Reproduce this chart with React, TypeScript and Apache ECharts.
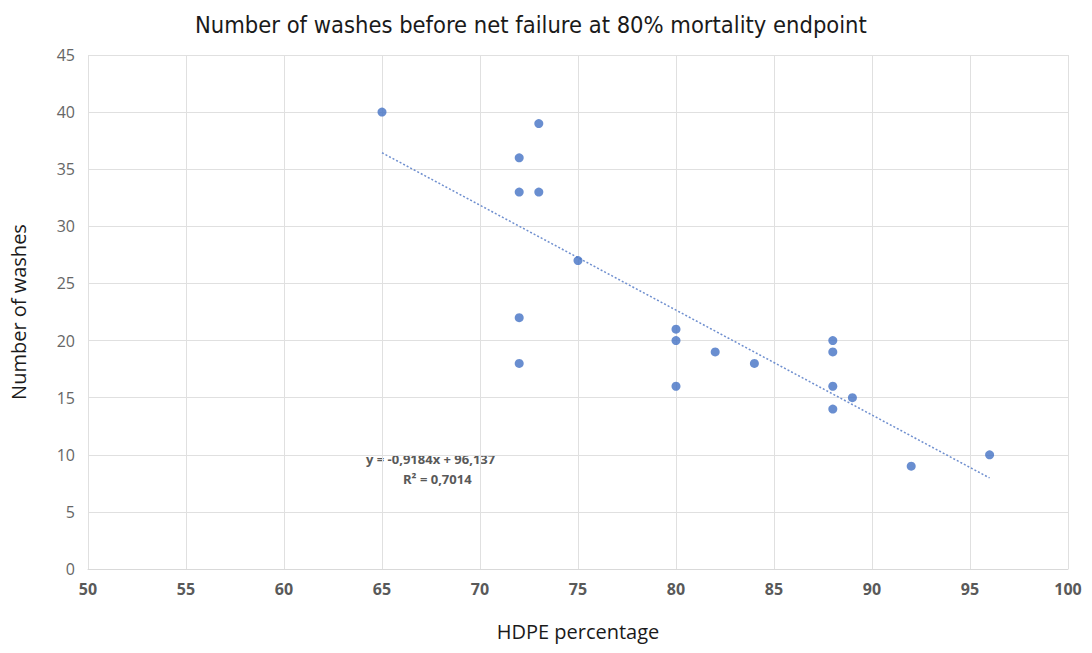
import React, { useEffect, useRef } from "react";
import * as echarts from "echarts";

const hdpe = [65, 72, 72, 73, 73, 75, 72, 72, 80, 80, 80, 82, 84, 88, 88, 88, 88, 89, 92, 96];
const washes = [40, 36, 33, 39, 33, 27, 22, 18, 21, 20, 16, 19, 18, 20, 19, 16, 14, 15, 9, 10];
const trendSlope = -0.9184;
const trendIntercept = 96.137;
const trendRange = [65, 96];
const titleText = "Number of washes before net failure at 80% mortality endpoint";
const eqText = "y = -0,9184x + 96,137";
const r2Text = "R\u00b2 = 0,7014";

export default function App() {
  const ref = useRef<HTMLDivElement>(null);
  useEffect(() => {
    if (!ref.current) return;
    const chart = echarts.init(ref.current, undefined, { renderer: "svg" });
    const pts = hdpe.map((x, i) => [x, washes[i]]);
    const trend = trendRange.map((x) => [x, trendSlope * x + trendIntercept]);
    const tickFont = { color: "#666666", fontSize: 16, fontFamily: "Open Sans" };
    chart.setOption({
      animation: false,
      backgroundColor: "#ffffff",
      title: {
        text: titleText,
        left: 190,
        top: 8,
        textStyle: { fontFamily: "DejaVu Sans Condensed", fontSize: 23.5, fontWeight: "normal", color: "#1a1a1a" },
      },
      grid: { left: 88, right: 24, top: 55, bottom: 84 },
      xAxis: {
        type: "value",
        min: 50,
        max: 100,
        interval: 5,
        name: "HDPE percentage",
        nameLocation: "middle",
        nameGap: 52,
        nameTextStyle: { fontFamily: "Open Sans", fontSize: 20, color: "#1a1a1a" },
        axisLine: { show: true, lineStyle: { color: "#d9d9d9" } },
        axisTick: { show: false },
        axisLabel: { ...tickFont, color: "#595959", fontWeight: "bold", margin: 12 },
        splitLine: { show: true, lineStyle: { color: "#e0e0e0" } },
      },
      yAxis: {
        type: "value",
        min: 0,
        max: 45,
        interval: 5,
        name: "Number of washes",
        nameLocation: "middle",
        nameGap: 60,
        nameTextStyle: { fontFamily: "Open Sans", fontSize: 20, color: "#1a1a1a" },
        axisLine: { show: false },
        axisTick: { show: false },
        axisLabel: { ...tickFont, margin: 13 },
        splitLine: { show: true, lineStyle: { color: "#e0e0e0" } },
      },
      series: [
        {
          type: "line",
          data: trend,
          showSymbol: false,
          symbol: "none",
          lineStyle: { color: "#6f8fcf", width: 1.5, type: [2, 2] },
          z: 1,
        },
        {
          type: "scatter",
          data: pts,
          symbolSize: 9,
          itemStyle: { color: "#4472c4" },
          z: 2,
        },
      ],
      graphic: [
        {
          type: "text",
          left: 366,
          top: 452,
          style: { text: eqText, fontFamily: "Open Sans", fontSize: 13, fontWeight: "bold", fill: "#595959" },
        },
        {
          type: "text",
          left: 403,
          top: 472,
          style: { text: r2Text, fontFamily: "Open Sans", fontSize: 13, fontWeight: "bold", fill: "#595959" },
        },
      ],
    });
    return () => chart.dispose();
  }, []);
  return <div ref={ref} style={{ width: 1092, height: 653, margin: -8 }} />;
}
